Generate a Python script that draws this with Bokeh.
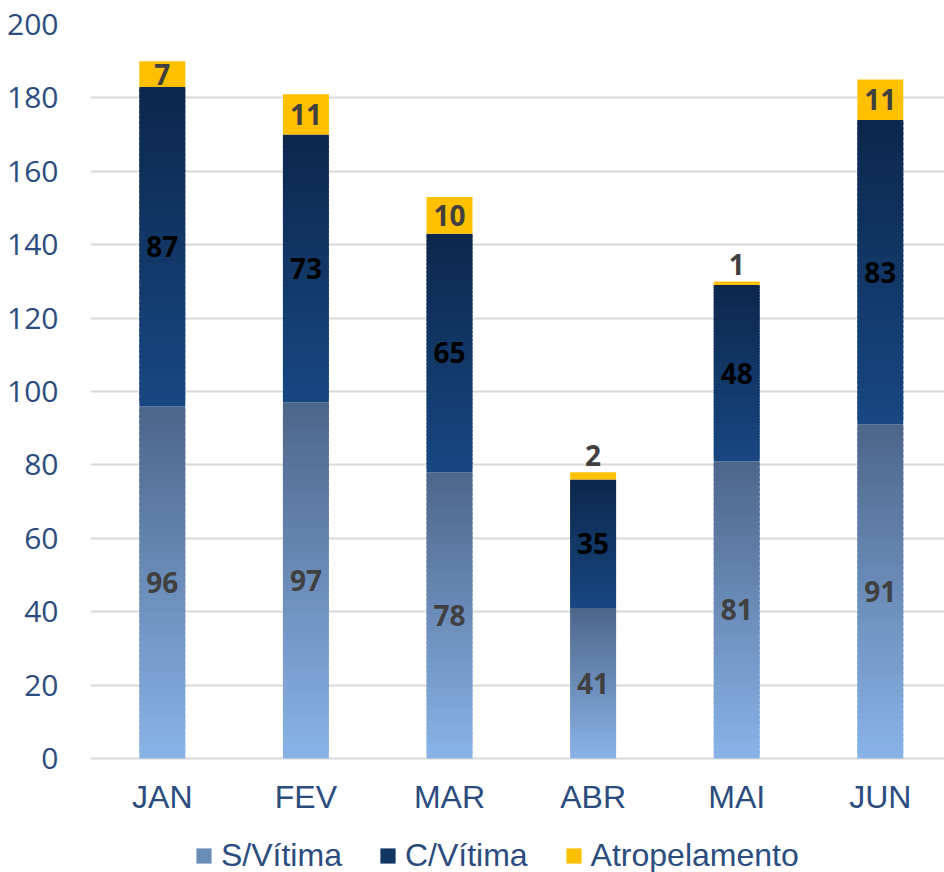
from bokeh.plotting import figure
from bokeh.models import Range1d, FixedTicker, Legend, LegendItem, ColumnDataSource
from bokeh.core.properties import value
from bokeh.embed import file_html
from bokeh.resources import INLINE

months = ["JAN", "FEV", "MAR", "ABR", "MAI", "JUN"]
s_vitima = [96, 97, 78, 41, 81, 91]
c_vitima = [87, 73, 65, 35, 48, 83]
atropelamento = [7, 11, 10, 2, 1, 11]
y_ticks = [0, 20, 40, 60, 80, 100, 120, 140, 160, 180, 200]

BAR_W = 0.32
AXIS_COLOR = "#2b4c7e"
Y_MAX = 200
PLOT_H = 734        # pixels from 0 to 200
FRAME_H = 848       # frame extends below 0 to hold month labels and legend
Y_MIN = -Y_MAX * (FRAME_H / PLOT_H - 1)
N_SLICES = 60

p = figure(width=944, height=872, output_backend="svg", toolbar_location=None,
           x_range=Range1d(-0.5, 5.447), y_range=Range1d(Y_MIN, Y_MAX),
           x_axis_location=None,
           min_border_left=90, min_border_right=0, min_border_top=24, min_border_bottom=0)
p.outline_line_color = None
p.background_fill_color = "white"
p.border_fill_color = "white"

xs = list(range(len(months)))


def lerp(c1, c2, f):
    return "#%02x%02x%02x" % tuple(int(round(a + (b - a) * f)) for a, b in zip(c1, c2))


def gradient(bottoms, tops, c_bottom, c_top, n=N_SLICES):
    d = dict(left=[], right=[], bottom=[], top=[], color=[])
    for x, b, t in zip(xs, bottoms, tops):
        h = (t - b) / n
        for k in range(n):
            f = (k + 0.5) / n
            d["left"].append(x - BAR_W / 2)
            d["right"].append(x + BAR_W / 2)
            d["bottom"].append(b + k * h)
            d["top"].append(min(t, b + (k + 1.6) * h))
            d["color"].append(lerp(c_bottom, c_top, f))
    return ColumnDataSource(d)


s_bot = [0] * len(months)
s_top = [a for a in s_vitima]
c_bot = s_top
c_top = [a + b for a, b in zip(s_vitima, c_vitima)]
a_bot = c_top
a_top = [a + b for a, b in zip(c_top, atropelamento)]

src_s = gradient(s_bot, s_top, (138, 179, 232), (76, 102, 137))
src_c = gradient(c_bot, c_top, (24, 71, 130), (12, 39, 76))
r_s = p.quad(left="left", right="right", bottom="bottom", top="top", fill_color="color",
             line_color=None, source=src_s)
r_c = p.quad(left="left", right="right", bottom="bottom", top="top", fill_color="color",
             line_color=None, source=src_c)
r_a = p.quad(left=[x - BAR_W / 2 for x in xs], right=[x + BAR_W / 2 for x in xs],
             bottom=a_bot, top=a_top, fill_color="#ffc000", line_color=None)

# data labels
font = value("Open Sans")
p.text(x=xs, y=[b + v / 2 for b, v in zip(s_bot, s_vitima)], text=[str(v) for v in s_vitima],
       text_font=font, text_font_style="bold", text_font_size="28px", text_color="#404040",
       text_align="center", text_baseline="middle")
p.text(x=xs, y=[b + v / 2 for b, v in zip(c_bot, c_vitima)], text=[str(v) for v in c_vitima],
       text_font=font, text_font_style="bold", text_font_size="28px", text_color="#000000",
       text_align="center", text_baseline="middle")
px_per_unit = PLOT_H / Y_MAX
in_x, in_y, in_t, out_x, out_y, out_t = [], [], [], [], [], []
for x, b, v in zip(xs, a_bot, atropelamento):
    if v * px_per_unit >= 20:
        in_x.append(x); in_y.append(b + v / 2); in_t.append(str(v))
    else:
        out_x.append(x); out_y.append(b + v); out_t.append(str(v))
p.text(x=in_x, y=in_y, text=in_t, text_font=font, text_font_style="bold", text_font_size="28px",
       text_color="#404040", text_align="center", text_baseline="middle")
p.text(x=out_x, y=out_y, text=out_t, text_font=font, text_font_style="bold", text_font_size="28px",
       text_color="#404040", text_align="center", text_baseline="middle", y_offset=-17)

# category labels (x axis)
p.text(x=xs, y=[0] * len(months), text=months, text_font=value("Liberation Sans"),
       text_font_size="32px", text_color=AXIS_COLOR, text_align="center",
       text_baseline="middle", y_offset=38)

# y axis
p.yaxis.ticker = FixedTicker(ticks=y_ticks)
p.ygrid.ticker = FixedTicker(ticks=y_ticks)
p.ygrid.grid_line_color = "#d9d9d9"
p.ygrid.grid_line_width = 2
p.xgrid.grid_line_color = None
p.yaxis.axis_line_color = None
p.yaxis.major_tick_line_color = None
p.yaxis.minor_tick_line_color = None
p.yaxis.major_tick_out = 0
p.yaxis.major_label_standoff = 32
p.yaxis.major_label_text_font = "Open Sans"
p.yaxis.major_label_text_font_size = "30px"
p.yaxis.major_label_text_color = AXIS_COLOR

# legend (swatch colour taken from the middle slice of the first bar's gradient)
mid = N_SLICES // 2
legend = Legend(items=[LegendItem(label="S/Vítima", renderers=[r_s], index=mid),
                       LegendItem(label="C/Vítima", renderers=[r_c], index=mid),
                       LegendItem(label="Atropelamento", renderers=[r_a], index=0)],
                orientation="horizontal", location=(104, -2),
                glyph_width=19, glyph_height=19, label_standoff=8, spacing=36,
                padding=0, margin=0, border_line_color=None, background_fill_alpha=0,
                label_text_font="Liberation Sans", label_text_font_size="32px",
                label_text_color=AXIS_COLOR)
p.add_layout(legend)

open("out.html", "w").write(file_html(p, INLINE))
